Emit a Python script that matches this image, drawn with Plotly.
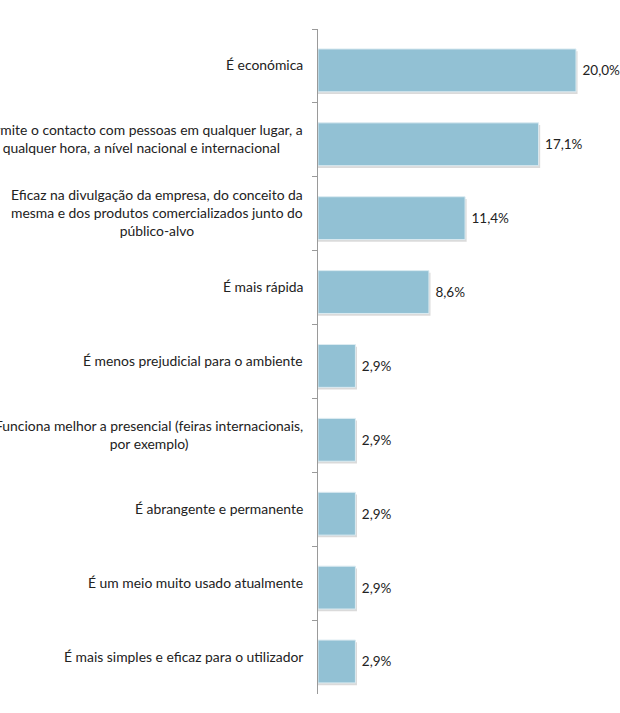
import plotly.graph_objects as go

categories = [
    "É económica",
    "Permite o contacto com pessoas em qualquer lugar, a<br>qualquer hora, a nível nacional e internacional",
    "Eficaz na divulgação da empresa, do conceito da<br>mesma e dos produtos comercializados junto do<br>público-alvo",
    "É mais rápida",
    "É menos prejudicial para o ambiente",
    "Funciona melhor a presencial (feiras internacionais,<br>por exemplo)",
    "É abrangente e permanente",
    "É um meio muito usado atualmente",
    "É mais simples e eficaz para o utilizador",
]
values = [20.0, 17.1, 11.4, 8.6, 2.9, 2.9, 2.9, 2.9, 2.9]

FONT = "Lato"
BAR = "#92C1D4"

fig = go.Figure()

# subtle shadow
fig.add_trace(go.Bar(
    y=categories, x=[v + 0.12 for v in values], orientation="h",
    width=0.58, offset=-0.20,
    marker=dict(color="rgba(150,150,150,0.35)", line=dict(width=0)),
    hoverinfo="skip", showlegend=False,
))
fig.add_trace(go.Bar(
    y=categories, x=values, orientation="h",
    width=0.58, offset=-0.23,
    marker=dict(color=BAR, line=dict(color="#DCEBF1", width=1)),
    text=values, texttemplate=" %{x:.1f}%", textposition="outside",
    textfont=dict(family=FONT, size=13.5, color="#222"),
    cliponaxis=False, showlegend=False,
))

for c in categories:
    fig.add_annotation(
        x=0, y=c, xref="x", yref="y", text=c, showarrow=False,
        xanchor="right", yanchor="middle", align="center", xshift=-13,
        yshift=1,
        font=dict(family=FONT, size=13.9, color="#222"),
    )

fig.update_layout(
    width=620, height=713,
    margin=dict(l=318, r=0, t=29, b=19),
    plot_bgcolor="white", paper_bgcolor="white",
    separators=", ",
    barmode="overlay",
    showlegend=False,
    xaxis=dict(range=[0, 23.41], visible=False, fixedrange=True),
    yaxis=dict(
        type="category", autorange="reversed", showticklabels=False,
        showline=True, linecolor="#9a9a9a", linewidth=1,
        ticks="outside", ticklen=5, tickcolor="#9a9a9a", tickson="boundaries",
        showgrid=False, zeroline=False,
    ),
)

fig.write_html("out.html")
